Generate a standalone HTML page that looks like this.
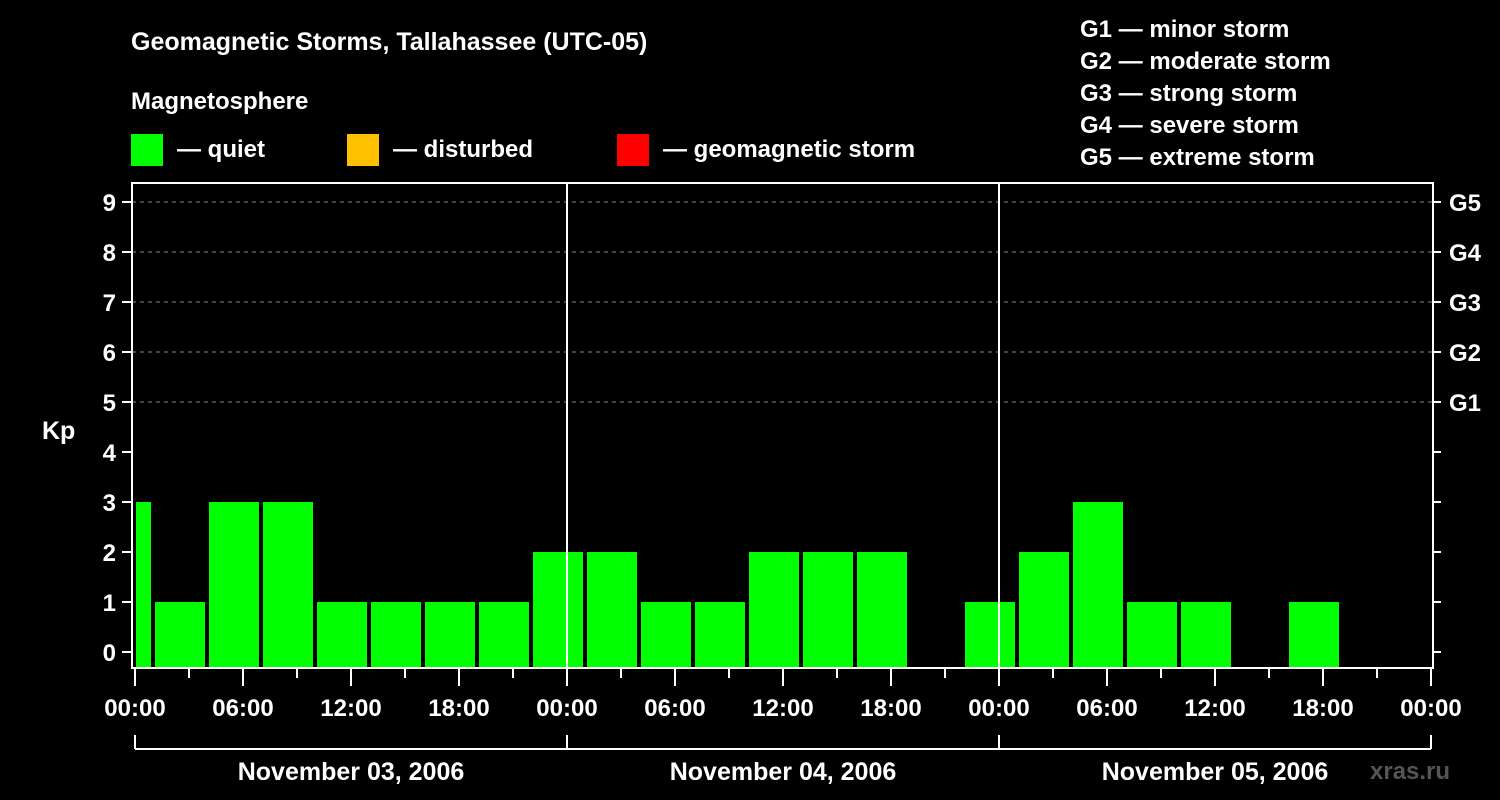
<!DOCTYPE html>
<html><head><meta charset="utf-8"><style>
html,body{margin:0;padding:0;background:#000;}
svg{display:block;font-family:"Liberation Sans",sans-serif;font-weight:bold;}
</style></head><body>
<svg id="c" width="1500" height="800" viewBox="0 0 1500 800">
<rect width="1500" height="800" fill="#000"/>
<text x="131" y="50" fill="#fff" font-size="25">Geomagnetic Storms, Tallahassee (UTC-05)</text>
<text x="131" y="109" fill="#fff" font-size="24">Magnetosphere</text>
<g><rect x="131" y="134" width="32" height="32" fill="#00ff00"/><text x="177" y="157" fill="#fff" font-size="24">— quiet</text></g>
<g><rect x="347" y="134" width="32" height="32" fill="#ffc000"/><text x="393" y="157" fill="#fff" font-size="24">— disturbed</text></g>
<g><rect x="617" y="134" width="32" height="32" fill="#ff0000"/><text x="663" y="157" fill="#fff" font-size="24">— geomagnetic storm</text></g>
<g fill="#fff" font-size="24">
<text x="1080" y="37">G1 — minor storm</text>
<text x="1080" y="69">G2 — moderate storm</text>
<text x="1080" y="101">G3 — strong storm</text>
<text x="1080" y="133">G4 — severe storm</text>
<text x="1080" y="165">G5 — extreme storm</text>
</g>
<text x="42" y="439" fill="#fff" font-size="25">Kp</text>
<text x="1370" y="779" fill="#555" font-size="24">xras.ru</text>
<g id="g"></g>
</svg>
<script>
const dayLabels = ["November 03, 2006","November 04, 2006","November 05, 2006"];
const xTickLabels = ["00:00","06:00","12:00","18:00","00:00","06:00","12:00","18:00","00:00","06:00","12:00","18:00","00:00"];
const yTicks = [0,1,2,3,4,5,6,7,8,9];
const gLabels = ["G1","G2","G3","G4","G5"];
// bins start hour (local, from Nov 3 00:00), 3-hour intervals
const binStarts = [-2,1,4,7,10,13,16,19,22,25,28,31,34,37,40,43,46,49,52,55,58,61,64,67,70];
const kpValues = [3,1,3,3,1,1,1,1,2,2,1,1,2,2,2,null,1,2,3,1,1,null,1,null,null];

const NS="http://www.w3.org/2000/svg";
const g=document.getElementById('g');
const X0=135,PXH=18,L=132,R=1433,T=183,B=668;
const x=h=>X0+h*PXH;
const y=v=>652-v*50;
function mk(t,a,txt){const e=document.createElementNS(NS,t);for(const k in a)e.setAttribute(k,a[k]);if(txt!==undefined)e.textContent=txt;g.appendChild(e);return e;}

// grid
[5,6,7,8,9].forEach(v=>{
 const e=mk('line',{x1:L,x2:R,y1:y(v),y2:y(v),stroke:'#888','stroke-dasharray':'4,4','stroke-width':1});
 
 
});
// bars
binStarts.forEach((s,i)=>{
 const v=kpValues[i]; if(v===null||v===undefined) return;
 let x1=x(s)+2,x2=x(s+3)-2;
 if(x1<L+4)x1=L+4; if(x2>R-2)x2=R-2;
 if(x2<=x1)return;
 const col=v>=5?'#ff0000':(v>=4?'#ffc000':'#00ff00');
 const e=mk('rect',{x:x1,y:y(v),width:x2-x1,height:B-y(v),fill:col});
 
 
});
// day separators
[24,48].forEach(h=>{
 const e=mk('line',{x1:x(h),x2:x(h),y1:T,y2:B,stroke:'#fff','stroke-width':2});
 
 
});
// frame
const f=mk('rect',{x:L,y:T,width:R-L,height:B-T,fill:'none',stroke:'#fff','stroke-width':2});


// y ticks
yTicks.forEach(v=>{
 mk('line',{x1:122,x2:L,y1:y(v),y2:y(v),stroke:'#fff','stroke-width':2});
 mk('line',{x1:R,x2:1441,y1:y(v),y2:y(v),stroke:'#fff','stroke-width':2});
 const t=mk('text',{x:116,y:y(v)+9,fill:'#fff','font-size':24,'text-anchor':'end'},String(v));
 
 
});
gLabels.forEach((l,i)=>{
 const t=mk('text',{x:1449,y:y(5+i)+9,fill:'#fff','font-size':24},l);
 
 
});
// x ticks
for(let h=0;h<=72;h+=3){
 const major=h%6===0;
 mk('line',{x1:x(h),x2:x(h),y1:B,y2:major?686:678,stroke:'#fff','stroke-width':2});
}
xTickLabels.forEach((l,i)=>{
 const t=mk('text',{x:x(i*6),y:716,fill:'#fff','font-size':24,'text-anchor':'middle'},l);
 
 
});
// day bracket
const br=mk('line',{x1:x(0),x2:x(72),y1:749,y2:749,stroke:'#fff','stroke-width':2});


[0,24,48,72].forEach(h=>mk('line',{x1:x(h),x2:x(h),y1:735,y2:749,stroke:'#fff','stroke-width':2}));
dayLabels.forEach((l,i)=>{
 const t=mk('text',{x:x(i*24+12),y:780,fill:'#fff','font-size':25,'text-anchor':'middle'},l);
 
 
});
</script>
</body></html>
